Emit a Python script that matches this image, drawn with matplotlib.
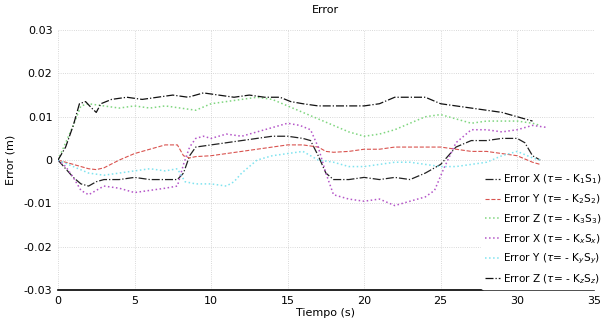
import numpy as np
import matplotlib
matplotlib.use("Agg")
import matplotlib.pyplot as plt

# datos (error en mm, se pasa a m)
t_x1 = [0, 0.5, 1, 1.5, 2, 2.5, 3, 4, 5, 6, 7, 7.8, 8.2, 8.6, 9, 10, 11, 12, 13, 14, 15, 16,
        16.5, 17, 17.5, 18, 19, 20, 21, 22, 23, 24, 25, 26, 27, 28, 29, 30, 30.5, 31, 31.5]
e_x1 = [0, -2, -4, -5.5, -6, -5, -4.5, -4.5, -4, -4.5, -4.5, -4.5, -3, 1, 3, 3.5, 4, 4.5, 5, 5.5, 5.5, 5,
        4.5, 1, -3, -4.5, -4.5, -4, -4.5, -4, -4.5, -3, -1, 3, 4.5, 4.5, 5, 5, 4, 1, 0]

t_y1 = [0, 1, 2, 2.5, 3, 4, 5, 6, 7, 7.8, 8.2, 8.6, 9, 10, 11, 12, 13, 14, 15, 16,
        17, 17.5, 18, 19, 20, 21, 22, 23, 24, 25, 26, 27, 28, 29, 30, 31, 31.5]
e_y1 = [0, -1, -2, -2.2, -1.8, 0, 1.5, 2.5, 3.5, 3.5, 1, 0.5, 0.8, 1, 1.5, 2, 2.5, 3, 3.5, 3.5,
        3, 2, 1.8, 2, 2.5, 2.5, 3, 3, 3, 3, 2.5, 2, 2, 1.5, 1, -0.5, -1]

t_z1 = [0, 1, 1.5, 2, 3, 4, 5, 6, 7, 8, 9, 10, 11, 12, 13, 14, 15,
        16, 17, 18, 19, 20, 21, 22, 23, 24, 25, 26, 27, 28, 29, 30, 31, 31.5]
e_z1 = [0, 8, 12.5, 13, 12.5, 12, 12.5, 12, 12.5, 12, 11.5, 13, 13.5, 14, 14.5, 14, 12.5,
        11, 9.5, 8, 6.5, 5.5, 6, 7, 8.5, 10, 10.5, 9.5, 8.5, 9, 9, 9, 8.5, 8]

t_x2 = [0, 0.5, 1, 1.5, 2, 2.5, 3, 4, 5, 6, 7, 7.8, 8.2, 8.6, 9, 9.5, 10, 11, 12, 13,
        14, 15, 15.8, 16.5, 17, 17.5, 18, 19, 20, 21, 22, 23, 24, 24.6, 25.2, 26, 27, 28, 29, 30, 31, 32]
e_x2 = [0, -1.5, -4, -7, -8, -7, -6, -6.5, -7.5, -7, -6.5, -6, -1, 3, 5, 5.5, 5, 6, 5.5, 6.5,
        7.5, 8.5, 8, 7, 3, -3, -8, -9, -9.5, -9, -10.5, -9.5, -8.5, -7, -2, 4, 7, 7, 6.5, 7, 8, 7.5]

t_y2 = [0, 1, 2, 3, 4, 5, 6, 7, 7.8, 8.3, 9, 10, 11, 11.5, 12, 13, 14, 15, 16, 16.5,
        17, 18, 19, 20, 21, 22, 23, 24, 25, 26, 27, 28, 29, 30, 31, 31.5]
e_y2 = [0, -1.5, -3, -3.5, -3, -2.5, -2, -2.5, -2, -5, -5.5, -5.5, -6, -5, -3, 0, 1, 1.5, 2, 1,
        0, -0.5, -1.5, -1.5, -1, -0.5, -0.5, -1, -1.5, -1.5, -1, -0.5, 1, 2, 0.5, 0]

t_z2 = [0, 0.5, 1, 1.4, 1.8, 2.2, 2.5, 2.8, 3.5, 4.5, 5.5, 6.5, 7.5, 8.5, 9.5, 10.5, 11.5, 12.5, 13.5, 14.5,
        15.2, 16, 17, 18, 19, 20, 21, 22, 23, 24, 25, 26, 27, 28, 29, 30, 30.5, 31]
e_z2 = [0, 3, 8, 13, 13.5, 12, 11, 13, 14, 14.5, 14, 14.5, 15, 14.5, 15.5, 15, 14.5, 15, 14.5, 14.5,
        13.5, 13, 12.5, 12.5, 12.5, 12.5, 13, 14.5, 14.5, 14.5, 13, 12.5, 12, 11.5, 11, 10, 9.5, 9]

labels = [r"Error X ($\tau$= - K$_1$S$_1$)",
          r"Error Y ($\tau$= - K$_2$S$_2$)",
          r"Error Z ($\tau$= - K$_3$S$_3$)",
          r"Error X ($\tau$= - K$_x$S$_x$)",
          r"Error Y ($\tau$= - K$_y$S$_y$)",
          r"Error Z ($\tau$= - K$_z$S$_z$)"]

fig = plt.figure(figsize=(6.04, 3.27), dpi=100)
ax = fig.add_axes([0.096, 0.113, 0.887, 0.795])

ax.plot(t_x1, np.array(e_x1) * 1e-3, color="#222222", ls="-.", lw=0.9, label=labels[0])
ax.plot(t_y1, np.array(e_y1) * 1e-3, color="#d9534f", ls="--", lw=0.8, label=labels[1])
ax.plot(t_z1, np.array(e_z1) * 1e-3, color="#7fd67f", ls=":", lw=1.1, label=labels[2])
ax.plot(t_x2, np.array(e_x2) * 1e-3, color="#b455c8", ls=":", lw=1.1, label=labels[3])
ax.plot(t_y2, np.array(e_y2) * 1e-3, color="#7fe3ef", ls=":", lw=1.1, label=labels[4])
ax.plot(t_z2, np.array(e_z2) * 1e-3, color="#111111", ls="-.", lw=0.9, label=labels[5])

ax.set_xlim(0, 35)
ax.set_ylim(-0.03, 0.03)
ax.set_xticks([0, 5, 10, 15, 20, 25, 30, 35])
ax.set_yticks([-0.03, -0.02, -0.01, 0, 0.01, 0.02, 0.03])
ax.set_yticklabels(["-0.03", "-0.02", "-0.01", "0", "0.01", "0.02", "0.03"])
ax.tick_params(labelsize=8, length=0, pad=4)
ax.grid(True, color="#cccccc", ls=":", lw=0.6)
for s in ["top", "right", "left"]:
    ax.spines[s].set_visible(False)
ax.spines["bottom"].set_linewidth(1.2)

ax.set_title("Error", fontsize=8, pad=12)
ax.set_xlabel("Tiempo (s)", fontsize=8, labelpad=2)
ax.set_ylabel("Error (m)", fontsize=8, labelpad=6)

leg = fig.legend(loc="lower right", bbox_to_anchor=(1.01, 0.1), fontsize=7.6,
                 handlelength=1.5, handletextpad=0.25, labelspacing=0.58,
                 borderpad=0.3, frameon=True, facecolor="white", edgecolor="white",
                 framealpha=1.0)

fig.savefig("out.png", dpi=100)
